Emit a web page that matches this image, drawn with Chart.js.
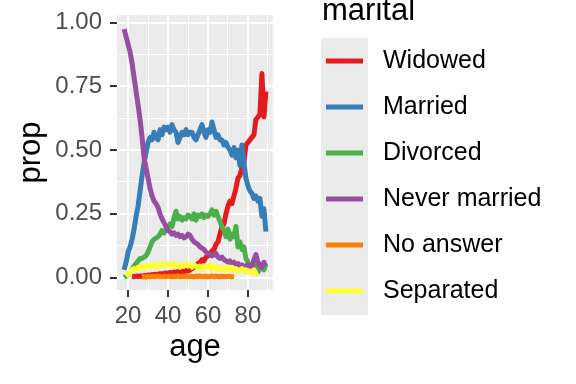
<!DOCTYPE html>
<html><head><meta charset="utf-8">
<script src="https://cdn.jsdelivr.net/npm/chart.js@4"></script>
<style>html,body{margin:0;padding:0;background:#fff;overflow:hidden}</style>
</head><body>
<canvas id="c" width="576" height="384" style="display:block"></canvas>
<script>
const ages = [18,19,20,21,22,23,24,25,26,27,
  28,29,30,31,32,33,34,35,36,37,
  38,39,40,41,42,43,44,45,46,47,
  48,49,50,51,52,53,54,55,56,57,
  58,59,60,61,62,63,64,65,66,67,
  68,69,70,71,72,73,74,75,76,77,
  78,79,80,81,82,83,84,85,86,87,
  88,89];
const widowed = [null,null,null,null,0.005,0.003,0.006,0.004,0.006,0.005,
  0.008,0.006,0.010,0.008,0.012,0.010,0.013,0.012,0.015,0.013,
  0.016,0.018,0.015,0.020,0.018,0.022,0.020,0.024,0.020,0.025,
  0.022,0.028,0.025,0.030,0.035,0.040,0.045,0.055,0.060,0.070,
  0.065,0.080,0.085,0.090,0.105,0.110,0.130,0.140,0.170,0.200,
  0.210,0.250,0.280,0.300,0.290,0.320,0.350,0.390,0.400,0.430,
  0.450,0.520,0.530,0.540,0.550,0.560,0.620,0.630,0.640,0.800,
  0.630,0.730];
const married = [0.03,0.06,0.10,0.12,0.15,0.19,0.24,0.28,0.34,0.40,
  0.45,0.49,0.53,0.55,0.54,0.57,0.55,0.54,0.58,0.56,
  0.59,0.58,0.59,0.57,0.60,0.58,0.57,0.53,0.55,0.57,
  0.56,0.58,0.56,0.57,0.57,0.55,0.54,0.56,0.58,0.60,
  0.57,0.55,0.58,0.57,0.61,0.58,0.55,0.56,0.54,0.54,
  0.52,0.53,0.51,0.50,0.48,0.51,0.47,0.50,0.44,0.52,
  0.45,0.39,0.36,0.34,0.33,0.31,0.32,0.30,0.31,0.24,
  0.27,0.18];
const divorced = [0.000,0.005,0.010,0.020,0.030,0.045,0.055,0.065,0.075,0.075,
  0.080,0.085,0.100,0.120,0.140,0.150,0.155,0.160,0.170,0.185,
  0.175,0.185,0.200,0.210,0.200,0.235,0.260,0.230,0.240,0.225,
  0.235,0.230,0.245,0.240,0.230,0.250,0.225,0.245,0.240,0.250,
  0.235,0.245,0.240,0.250,0.265,0.245,0.260,0.240,0.220,0.200,
  0.185,0.160,0.190,0.150,0.170,0.160,0.200,0.120,0.140,0.110,
  0.120,0.075,0.060,0.045,0.050,0.040,0.045,0.020,0.035,0.040,
  0.030,0.050];
const neverMarried = [0.975,0.945,0.915,0.885,0.840,0.785,0.730,0.677,0.620,0.550,
  0.470,0.430,0.390,0.350,0.320,0.300,0.290,0.275,0.250,0.230,
  0.215,0.200,0.185,0.180,0.170,0.175,0.165,0.170,0.160,0.165,
  0.155,0.160,0.170,0.165,0.150,0.140,0.135,0.130,0.120,0.115,
  0.110,0.100,0.095,0.090,0.085,0.090,0.095,0.080,0.075,0.080,
  0.070,0.065,0.060,0.065,0.055,0.060,0.050,0.055,0.045,0.050,
  0.045,0.040,0.050,0.045,0.040,0.070,0.090,0.060,0.045,0.040,
  0.060,0.045];
const noAnswer = [null,null,null,null,null,null,null,null,null,0.002,
  0.003,0.002,0.004,0.003,0.005,0.003,0.004,0.006,0.003,0.004,
  0.005,0.003,0.006,0.004,0.003,0.005,0.004,0.006,0.003,0.005,
  0.004,0.006,0.003,0.005,0.004,0.003,0.005,0.004,0.006,0.003,
  0.004,0.005,0.003,0.004,0.006,0.003,0.005,0.004,0.003,0.005,
  0.004,0.003,0.005,0.004,0.003,0.004,null,null,null,null,
  null,null,null,null,null,null,null,null,null,null,
  null,null];
const separated = [null,0.005,0.012,0.020,0.030,0.035,0.030,0.040,0.035,0.045,
  0.040,0.045,0.040,0.050,0.045,0.050,0.040,0.050,0.045,0.055,
  0.050,0.045,0.055,0.050,0.045,0.055,0.045,0.050,0.040,0.050,
  0.045,0.055,0.045,0.050,0.040,0.050,0.045,0.035,0.045,0.040,
  0.035,0.045,0.040,0.050,0.035,0.045,0.040,0.030,0.040,0.035,
  0.030,0.040,0.035,0.030,0.040,0.030,0.035,0.025,0.030,0.035,
  0.025,0.030,0.020,0.025,0.020,0.030,0.015,0.020,null,null,
  null,null];

const seriesNames = ['Widowed','Married','Divorced','Never married','No answer','Separated'];
const seriesValues = [widowed, married, divorced, neverMarried, noAnswer, separated];
const seriesColors = ['#E41A1C','#377EB8','#4DAF4A','#984EA3','#FF7F00','#FFFF33'];
const xTickValues = [20,30,40,50,60,70,80,90];
const xTickLabels = [20,40,60,80];
const yTickValues = [0,0.125,0.25,0.375,0.5,0.625,0.75,0.875,1];
const yTickLabels = [0,0.25,0.5,0.75,1];

const FONT = "'Liberation Sans', Arial, sans-serif";

const datasets = seriesNames.map((name, i) => ({
  label: name,
  data: ages.map((a, k) => ({x: a, y: seriesValues[i][k]})),
  borderColor: seriesColors[i],
  backgroundColor: seriesColors[i],
  borderWidth: 5,
  borderJoinStyle: 'round',
  pointRadius: 0,
  tension: 0,
  fill: false,
  order: seriesNames.length - i
}));

const panelBg = {
  id: 'panelBg',
  beforeDraw(chart) {
    const {ctx, chartArea: a} = chart;
    ctx.save();
    ctx.fillStyle = '#EBEBEB';
    ctx.fillRect(a.left, a.top, a.right - a.left, a.bottom - a.top);
    ctx.restore();
  }
};

const legendPlugin = {
  id: 'ggLegend',
  afterDraw(chart) {
    const ctx = chart.ctx;
    ctx.save();
    ctx.fillStyle = '#000';
    ctx.font = '31px ' + FONT;
    ctx.textAlign = 'left';
    ctx.textBaseline = 'alphabetic';
    ctx.fillText('marital', 322, 20);
    ctx.fillStyle = '#EBEBEB';
    ctx.fillRect(321, 38, 47, 277);
    ctx.font = '25px ' + FONT;
    ctx.textBaseline = 'middle';
    seriesNames.forEach((name, i) => {
      const y = 61 + 46 * i;
      ctx.strokeStyle = seriesColors[i];
      ctx.lineWidth = 5;
      ctx.beginPath();
      ctx.moveTo(326, y);
      ctx.lineTo(363, y);
      ctx.stroke();
      ctx.fillStyle = '#000';
      ctx.fillText(name, 383, y);
    });
    ctx.restore();
  }
};

new Chart(document.getElementById('c'), {
  type: 'line',
  data: {datasets},
  plugins: [panelBg, legendPlugin],
  options: {
    responsive: false,
    devicePixelRatio: 1,
    animation: false,
    events: [],
    layout: {padding: {left: 0, right: 303, top: 15, bottom: 0}},
    plugins: {legend: {display: false}, tooltip: {enabled: false}},
    scales: {
      x: {
        type: 'linear',
        min: 14.45, max: 92.55,
        afterBuildTicks: s => { s.ticks = xTickValues.map(v => ({value: v})); },
        afterFit: s => { s.height = 94; s.paddingLeft = 0; s.paddingRight = 0; },
        border: {display: false},
        grid: {
          color: '#FFFFFF',
          lineWidth: c => xTickLabels.includes(c.tick.value) ? 2 : 1,
          tickColor: c => xTickLabels.includes(c.tick.value) ? '#333333' : 'rgba(0,0,0,0)',
          tickLength: 7,
          tickWidth: 2
        },
        ticks: {
          autoSkip: false, maxRotation: 0, minRotation: 0,
          padding: 5,
          color: '#4D4D4D',
          font: {family: FONT, size: 24},
          callback: v => xTickLabels.includes(v) ? String(v) : ''
        },
        title: {display: true, text: 'age', color: '#000', font: {family: FONT, size: 31}, padding: {top: 0, bottom: 18}}
      },
      y: {
        type: 'linear',
        min: -0.049, max: 1.03,
        afterBuildTicks: s => { s.ticks = yTickValues.map(v => ({value: v})); },
        afterFit: s => { s.width = 117; s.paddingTop = 0; s.paddingBottom = 0; },
        border: {display: false},
        grid: {
          color: '#FFFFFF',
          lineWidth: c => yTickLabels.includes(c.tick.value) ? 2 : 1,
          tickColor: c => yTickLabels.includes(c.tick.value) ? '#333333' : 'rgba(0,0,0,0)',
          tickLength: 7,
          tickWidth: 2
        },
        ticks: {
          autoSkip: false,
          padding: 8,
          color: '#4D4D4D',
          font: {family: FONT, size: 24},
          callback: v => yTickLabels.includes(v) ? v.toFixed(2) : ''
        },
        title: {display: true, text: 'prop', color: '#000', font: {family: FONT, size: 31}, padding: {top: 13, bottom: 0}}
      }
    }
  }
});
</script>
</body></html>
